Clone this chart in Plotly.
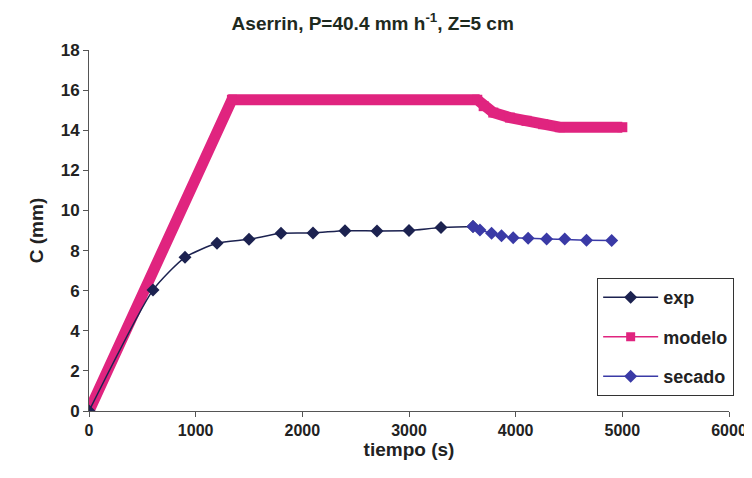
import plotly.graph_objects as go

# ---- data ----
exp_t = [0, 600, 900, 1200, 1500, 1800, 2100, 2400, 2700, 3000, 3300, 3600]
exp_c = [0.0, 6.03, 7.66, 8.36, 8.56, 8.86, 8.88, 8.99, 8.98, 9.0, 9.15, 9.2]

modelo_t = [0, 1340, 3640, 3700, 3790, 3946, 4102, 4258, 4414, 5000]
modelo_c = [0.0, 15.52, 15.52, 15.2, 14.88, 14.63, 14.47, 14.3, 14.15, 14.15]

secado_t = [3600, 3665, 3774, 3867, 3977, 4117, 4290, 4460, 4664, 4900]
secado_c = [9.2, 9.02, 8.86, 8.74, 8.64, 8.61, 8.57, 8.57, 8.52, 8.5]

x_ticks = [0, 1000, 2000, 3000, 4000, 5000, 6000]
y_ticks = [0, 2, 4, 6, 8, 10, 12, 14, 16, 18]

C_EXP = "#1c2250"
C_MOD = "#e0247f"
C_SEC = "#3a3aa6"
FONT = "Liberation Sans"
TXT = "#222222"

fig = go.Figure()

# thick band for the model (dense square markers in the original)
fig.add_trace(go.Scatter(
    x=modelo_t, y=modelo_c, mode="lines+markers",
    line=dict(color=C_MOD, width=11),
    marker=dict(symbol="square", size=10, color=C_MOD),
    showlegend=False, hoverinfo="skip", legendgroup="m0"))

fig.add_trace(go.Scatter(
    x=exp_t, y=exp_c, mode="lines+markers", name="exp", legendgroup="g1",
    line=dict(color=C_EXP, width=1.5, shape="spline", smoothing=0.6),
    marker=dict(symbol="diamond", size=10, color=C_EXP)))

# legend entry for modelo
fig.add_trace(go.Scatter(
    x=[None], y=[None], mode="lines+markers", name="modelo", legendgroup="g2",
    line=dict(color=C_MOD, width=1.5),
    marker=dict(symbol="square", size=9, color=C_MOD)))

fig.add_trace(go.Scatter(
    x=secado_t, y=secado_c, mode="lines+markers", name="secado", legendgroup="g3",
    line=dict(color=C_SEC, width=1.5),
    marker=dict(symbol="diamond", size=10, color=C_SEC)))

fig.update_layout(
    width=752, height=478,
    margin=dict(l=81, r=31, t=42, b=75),
    paper_bgcolor="white", plot_bgcolor="white",
    font=dict(family=FONT, size=13, color=TXT),
    title=dict(text="Aserrin, P=40.4 mm h<sup>-1</sup>, Z=5 cm",
               x=0.485, xanchor="center", y=0.968, yanchor="middle",
               font=dict(family=FONT, size=19, color="#1e2a1e", weight="bold")),
    legend=dict(x=0.794, y=0.368, xanchor="left", yanchor="top",
                bordercolor="#333333", borderwidth=1, bgcolor="white",
                font=dict(family=FONT, size=18, color=TXT, weight="bold"),
                tracegroupgap=13, traceorder="grouped", itemwidth=55),
    showlegend=True,
)

fig.update_xaxes(
    range=[0, 6000], tickvals=x_ticks,
    showgrid=False, zeroline=False, showline=True, linecolor="#555555", linewidth=1,
    ticks="outside", ticklen=5, tickcolor="#555555",
    tickfont=dict(family=FONT, size=16, color=TXT, weight="bold"),
    title=dict(text="tiempo (s)", font=dict(family=FONT, size=19, color=TXT, weight="bold"), standoff=4))

fig.update_yaxes(
    range=[0, 18], tickvals=y_ticks,
    showgrid=False, zeroline=False, showline=True, linecolor="#555555", linewidth=1,
    ticks="outside", ticklen=5, tickcolor="#555555",
    tickfont=dict(family=FONT, size=17, color=TXT, weight="bold"),
    title=dict(text="C (mm)", font=dict(family=FONT, size=19, color=TXT, weight="bold"), standoff=12))

fig.write_html("out.html")
